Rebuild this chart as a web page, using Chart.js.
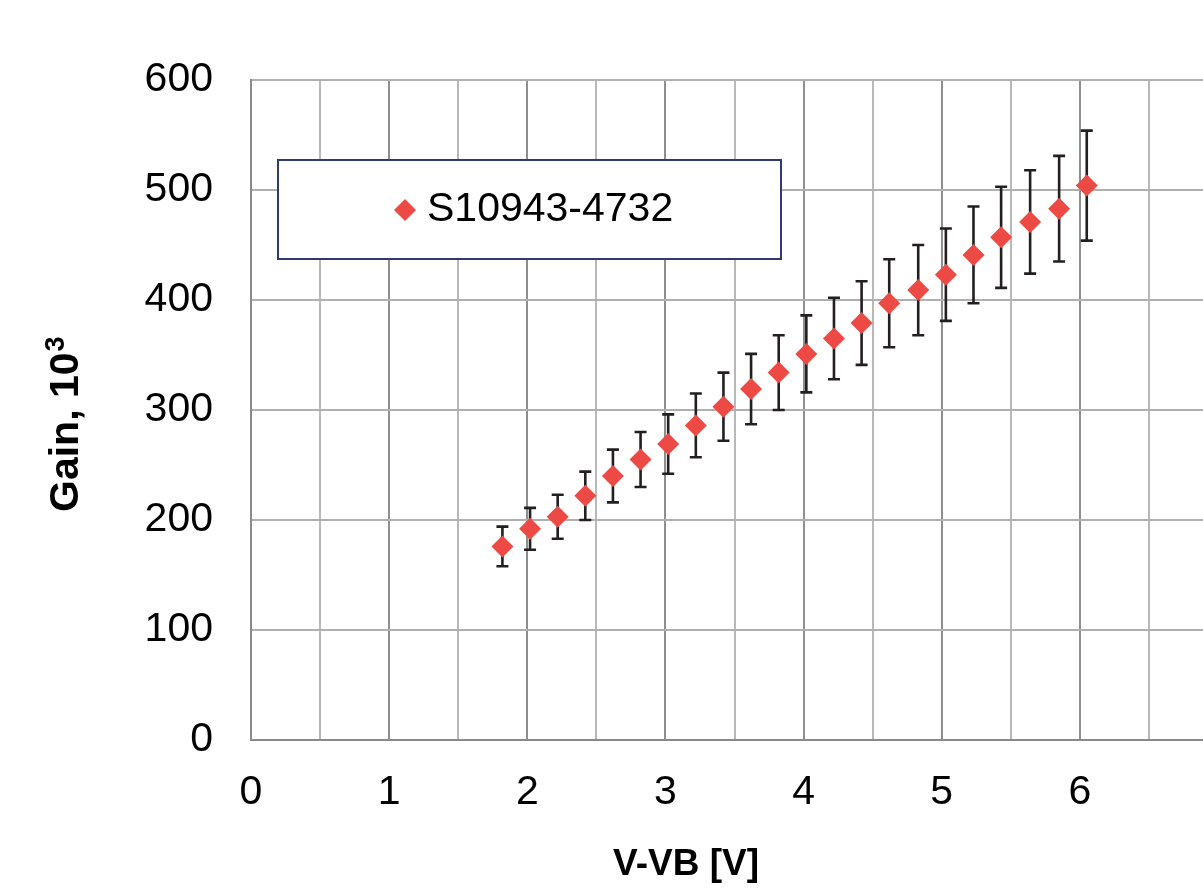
<!DOCTYPE html>
<html>
<head>
<meta charset="utf-8">
<title>Gain vs V-VB</title>
<script src="https://cdn.jsdelivr.net/npm/chart.js@4.4.0/dist/chart.umd.min.js"></script>
<style>
  html, body { margin: 0; padding: 0; background: #fff; overflow: hidden; }
  #wrap { position: relative; width: 1246px; height: 891px; }
</style>
</head>
<body>
<div id="wrap"><canvas id="gain"></canvas></div>
<script>
// measured points: overvoltage [V], gain [x10^3], error (+/-)
const seriesName = 'S10943-4732';
const voltage = [1.82, 2.02, 2.22, 2.42, 2.62, 2.82, 3.02, 3.22, 3.42, 3.62, 3.82,
                 4.02, 4.22, 4.42, 4.62, 4.83, 5.03, 5.23, 5.43, 5.64, 5.85, 6.05];
const gain = [176, 192, 203, 222, 240, 255, 269, 286, 303, 319, 334,
              351, 365, 379, 397, 409, 423, 441, 457, 471, 483, 504];
const gainErr = [18, 19, 20, 22, 24, 25, 27, 29, 31, 32, 34,
                 35, 37, 38, 40, 41, 42, 44, 46, 47, 48, 50];

const xMin = 0, xMax = 7, xStep = 0.5;
const yMin = 0, yMax = 600, yStep = 100;
// only whole volts get a label; the 7 V edge sits past the right border
const xTickLabels = ['0', '1', '2', '3', '4', '5', '6'];

const FONT = "'Liberation Sans', Arial, sans-serif";
const RED = '#EE4A45';

const errorBars = {
    id: 'errorBars',
    beforeDatasetsDraw(chart) {
        const { ctx, scales: { x, y } } = chart;
        ctx.save();
        ctx.strokeStyle = '#231F20';
        ctx.lineWidth = 2.6;
        voltage.forEach((v, i) => {
            const px = x.getPixelForValue(v);
            const hi = y.getPixelForValue(gain[i] + gainErr[i]);
            const lo = y.getPixelForValue(gain[i] - gainErr[i]);
            ctx.beginPath();
            ctx.moveTo(px, hi); ctx.lineTo(px, lo);
            ctx.moveTo(px - 6, hi); ctx.lineTo(px + 6, hi);
            ctx.moveTo(px - 6, lo); ctx.lineTo(px + 6, lo);
            ctx.stroke();
        });
        ctx.restore();
    }
};

// boxed legend inside the plot, plus both axis titles
const boxLegend = {
    id: 'boxLegend',
    afterDatasetsDraw(chart) {
        const { ctx, chartArea } = chart;
        const bx = chartArea.left + 27, by = chartArea.top + 80, bw = 503, bh = 99;
        ctx.save();
        ctx.fillStyle = '#fff';
        ctx.fillRect(bx, by, bw, bh);
        ctx.strokeStyle = '#2E3A70';
        ctx.lineWidth = 2;
        ctx.strokeRect(bx, by, bw, bh);

        ctx.fillStyle = RED;
        Chart.helpers.drawPoint(ctx, { pointStyle: 'rectRot', radius: 11, rotation: 0, borderWidth: 0 },
            bx + 127, by + 50);

        ctx.fillStyle = '#000';
        ctx.font = '41px ' + FONT;
        ctx.textAlign = 'left';
        ctx.textBaseline = 'middle';
        ctx.fillText(seriesName, bx + 149, by + 50);
        ctx.restore();
    },
    afterDraw(chart) {
        const { ctx, chartArea } = chart;
        ctx.save();
        ctx.fillStyle = '#000';
        ctx.font = 'bold 37px ' + FONT;
        ctx.textAlign = 'center';
        ctx.textBaseline = 'middle';
        ctx.fillText('V-VB [V]', chartArea.left + 435, 865);

        // "Gain, 10^3" rotated, with a real superscript
        ctx.translate(78, chartArea.top + 432);
        ctx.rotate(-Math.PI / 2);
        ctx.textAlign = 'left';
        ctx.textBaseline = 'alphabetic';
        ctx.font = 'bold 41px ' + FONT;
        const main = 'Gain, 10';
        ctx.fillText(main, 0, 0);
        const w = ctx.measureText(main).width;
        ctx.font = 'bold 27px ' + FONT;
        ctx.fillText('3', w + 1, -14);
        ctx.restore();
    }
};

new Chart(document.getElementById('gain'), {
    type: 'scatter',
    data: {
        datasets: [{
            label: seriesName,
            data: voltage.map((v, i) => ({ x: v, y: gain[i] })),
            pointStyle: 'rectRot',
            pointRadius: 11,
            pointHoverRadius: 11,
            backgroundColor: RED,
            borderColor: RED,
            borderWidth: 0
        }]
    },
    options: {
        responsive: true,
        maintainAspectRatio: false,
        animation: false,
        devicePixelRatio: 1,
        layout: { padding: { left: 0, right: 23, top: 80, bottom: 0 } },
        plugins: {
            legend: { display: false },
            tooltip: { enabled: false }
        },
        scales: {
            x: {
                type: 'linear',
                min: xMin, max: xMax,
                afterFit: s => { s.height = 151; },
                ticks: {
                    stepSize: xStep,
                    autoSkip: false,
                    maxRotation: 0,
                    padding: 28,
                    color: '#000',
                    font: { family: FONT, size: 41 },
                    callback: v => (v % 1 === 0 && xTickLabels[v] !== undefined ? xTickLabels[v] : '')
                },
                grid: {
                    drawTicks: false,
                    lineWidth: 2,
                    color: c => (c.tick && c.tick.value % 1 === 0 ? '#8E8E8E' : '#B8B8B8')
                },
                border: { color: '#8A8A8A', width: 2 }
            },
            y: {
                min: yMin, max: yMax,
                afterFit: s => { s.width = 251; },
                ticks: {
                    stepSize: yStep,
                    padding: 38,
                    color: '#000',
                    font: { family: FONT, size: 41 }
                },
                grid: {
                    drawTicks: false,
                    lineWidth: 2,
                    color: '#B0B0B0'
                },
                border: { color: '#8A8A8A', width: 2 }
            }
        }
    },
    plugins: [errorBars, boxLegend]
});
</script>
</body>
</html>
